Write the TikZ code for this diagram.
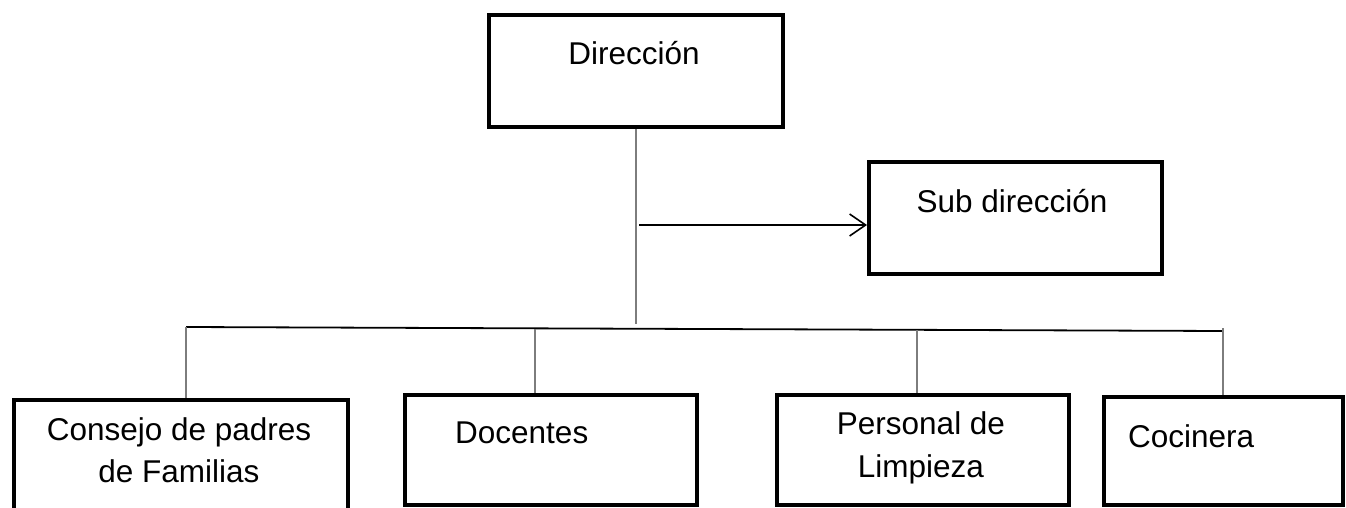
\documentclass[tikz,border=0pt]{standalone}
\usepackage{fontspec}
\setmainfont{Liberation Sans}
\usetikzlibrary{arrows.meta}
\definecolor{linegray}{RGB}{125,125,125}
\tikzset{
  orgbox/.style={draw=black, line width=4pt, minimum width=#1, inner sep=0pt, anchor=north west},
  lbl/.style={font=\fontsize{31.5}{42.5}\selectfont, inner sep=0pt, align=center},
  grayline/.style={draw=linegray, line width=1.6pt},
  busline/.style={draw=black, line width=1.8pt},
  arrowline/.style={draw=black, line width=1.6pt, -{Straight Barb[length=16pt, width=22pt, line width=1.6pt]}}
}
\begin{document}
\begin{tikzpicture}[x=1pt, y=-1pt]
\clip (0,0) rectangle (1346,508);
\fill[white] (0,0) rectangle (1346,508);
% boxes
\node[orgbox=294pt, minimum height=112pt] (dir) at (487,13) {};
\node[orgbox=293pt, minimum height=112pt] (sub) at (867,160) {};
\node[orgbox=334pt, minimum height=140pt] (cons) at (12,398) {};
\node[orgbox=292pt, minimum height=110pt] (doc) at (403,393) {};
\node[orgbox=292pt, minimum height=110pt] (pers) at (775,393) {};
\node[orgbox=239pt, minimum height=108pt] (coc) at (1102,395) {};
% labels
\node[lbl, anchor=base] (tdir) at (634,65) {Dirección};
\node[lbl, anchor=base] (tsub) at (1012,212) {Sub dirección};
\node[lbl, anchor=base] (tcons1) at (179,440) {Consejo de padres};
\node[lbl, anchor=base] (tcons2) at (179,482) {de Familias};
\node[lbl, anchor=base west] (tdoc) at (455,443) {Docentes};
\node[lbl, anchor=base] (tpers1) at (921,434) {Personal de};
\node[lbl, anchor=base] (tpers2) at (921,477) {Limpieza};
\node[lbl, anchor=base west] (tcoc) at (1128,447) {Cocinera};
% bus coordinates
\coordinate (vx) at (636,0);
\coordinate (busL) at (186,327);
\coordinate (busR) at (1223,331);
\coordinate (busmid) at (636,324);
\coordinate (b2) at (535,329);
\coordinate (b3) at (917,330);
\coordinate (b4) at (1223,328);
\coordinate (astart) at (639,225);
% connectors
\draw[grayline] (vx |- dir.south) -- (busmid);
\draw[arrowline] (astart) -- (astart -| sub.west);
\draw[busline] (busL) -- (busR);
\draw[grayline] (busL) -- (busL |- cons.north);
\draw[grayline] (b2) -- (b2 |- doc.north);
\draw[grayline] (b3) -- (b3 |- pers.north);
\draw[grayline] (b4) -- (b4 |- coc.north);
\end{tikzpicture}
\end{document}
